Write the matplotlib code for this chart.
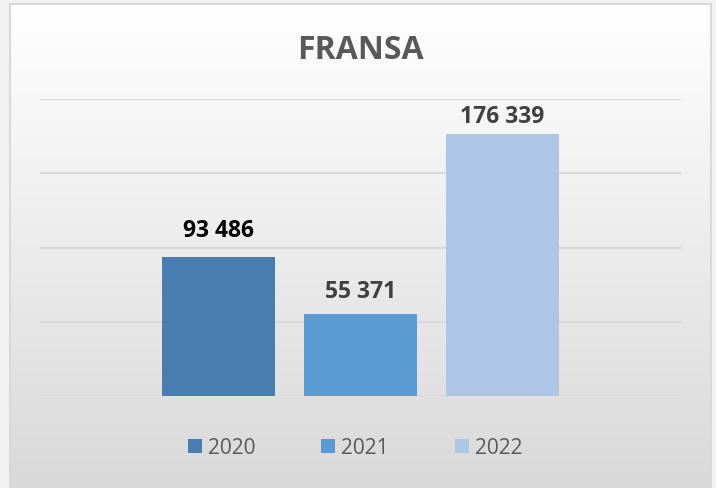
import matplotlib
matplotlib.use('Agg')

import matplotlib.pyplot as plt
import numpy as np
from matplotlib.patches import Patch, Rectangle

plt.rcParams['font.family'] = ['Open Sans', 'DejaVu Sans']

# Data
title = "FRANSA"
years = ["2020", "2021", "2022"]
values = [93486, 55371, 176339]
value_labels = ["93 486", "55 371", "176 339"]
y_ticks = [0, 50000, 100000, 150000, 200000]

# Style
bar_colors = ["#497DB0", "#5B9BD5", "#ADC6E6"]
label_colors = ["#000000", "#404040", "#404040"]
label_offsets = [14.8, 11.5, 7.9]  # points above bar top
grid_color = "#d9d9d9"

W, H = 716, 488
fig = plt.figure(figsize=(W / 100, H / 100), dpi=100, facecolor="#f2f2f2")

# chart box with vertical gradient
bg = fig.add_axes([10 / W, 1 - 487 / H, 701 / W, 483 / H], zorder=0)
grad = np.linspace(255, 217, 256).reshape(-1, 1) / 255.0
bg.imshow(np.dstack([grad, grad, grad]), aspect='auto', extent=[0, 1, 0, 1])
bg.set_xlim(0, 1)
bg.set_ylim(0, 1)
bg.axis('off')
bg.add_patch(Rectangle((0, 0), 1, 1, transform=bg.transAxes, fill=False,
                       edgecolor="#d9d9d9", linewidth=1.5, clip_on=False))

# plot area
ax = fig.add_axes([40 / W, 1 - 396 / H, 641 / W, (396 - 99.2) / H], zorder=1)
ax.patch.set_alpha(0)
x = np.arange(len(years)) - 1
width = 113 / 142
for yt in y_ticks:
    ax.axhline(yt, color=grid_color, linewidth=1.5, zorder=1)
bars = ax.bar(x, values, width=width, color=bar_colors, zorder=2)
ax.set_xlim(-320.5 / 142, 320.5 / 142)
ax.set_ylim(y_ticks[0], y_ticks[-1])
for s in ax.spines.values():
    s.set_visible(False)
ax.set_xticks([])
ax.set_yticks([])

for xi, v, lab, c, off in zip(x, values, value_labels, label_colors, label_offsets):
    ax.annotate(lab, (xi, v), xytext=(0, off), textcoords='offset points',
                ha='center', va='baseline', fontsize=16.5, fontweight='bold', color=c)

fig.text(360 / W, 1 - 59 / H, title, ha='center', va='baseline',
         fontsize=23, fontweight='bold', color="#595959")

handles = [Patch(facecolor=c, edgecolor='none') for c in bar_colors]
fig.legend(handles, years, loc='center', bbox_to_anchor=(355 / W, 1 - 448 / H),
           ncol=3, frameon=False, fontsize=15, handlelength=0.67, handleheight=0.67,
           handletextpad=0.29, columnspacing=3.17, labelcolor="#595959")

fig.savefig("out.png", dpi=100, facecolor=fig.get_facecolor())
plt.close(fig)
